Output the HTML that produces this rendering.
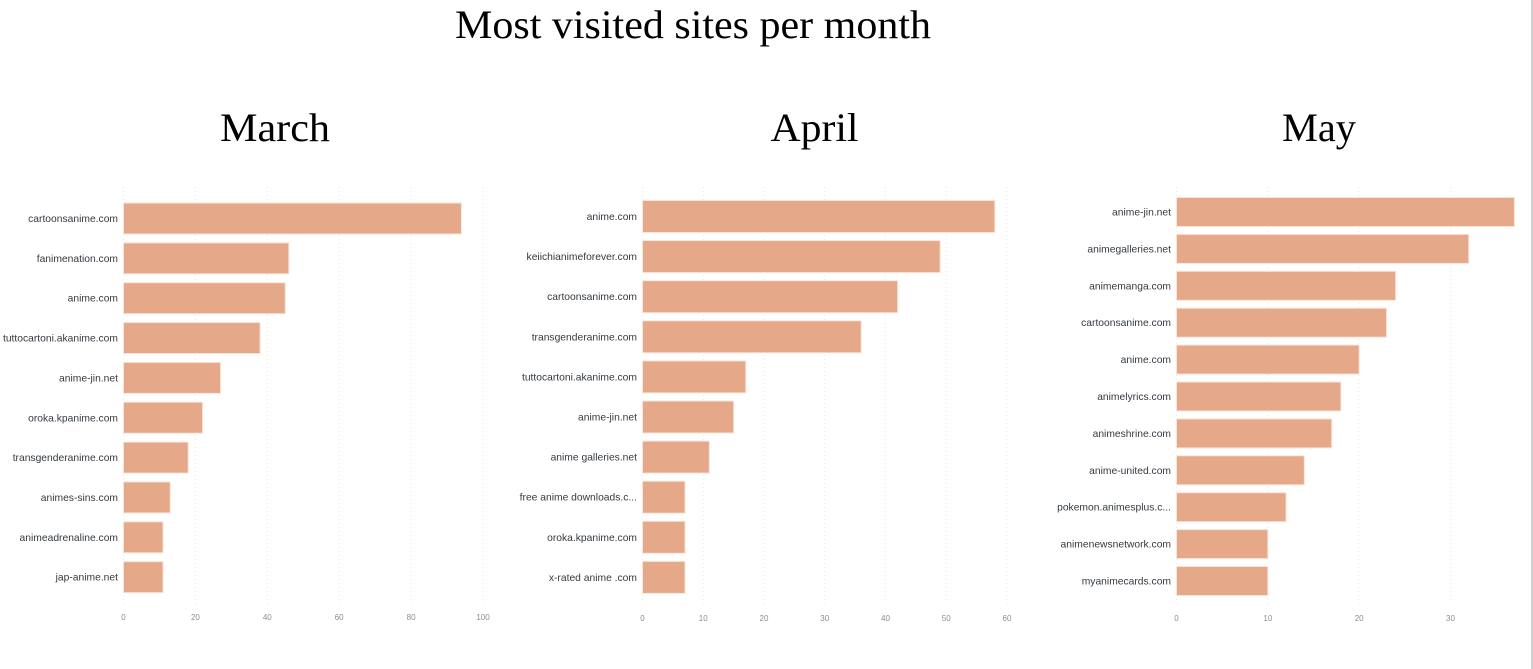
<!DOCTYPE html>
<html lang="en">
<head>
<meta charset="utf-8">
<title>Most visited sites per month</title>
<style>
html,body{margin:0;padding:0;background:#fff;width:1533px;height:669px;overflow:hidden}
svg{display:block}
.heading{font-family:"Liberation Serif",serif;fill:#000}
.cat{font-family:"Liberation Sans",sans-serif;font-size:10.3px;fill:#333a40;text-anchor:end}
.tick{font-family:"Liberation Sans",sans-serif;font-size:8px;fill:#868e96;text-anchor:middle}
</style>
</head>
<body>
<svg id="root" width="1533" height="669" viewBox="0 0 1533 669" xmlns="http://www.w3.org/2000/svg">
  <rect x="0" y="0" width="1533" height="669" fill="#ffffff"/>
  <rect x="1531" y="0" width="2" height="669" fill="#d0d0d0"/>
  <text class="heading" x="693" y="38" font-size="40" text-anchor="middle" textLength="476" lengthAdjust="spacingAndGlyphs">Most visited sites per month</text>
  <text class="heading" x="275" y="141" font-size="40" text-anchor="middle" textLength="110" lengthAdjust="spacingAndGlyphs">March</text>
  <text class="heading" x="814.5" y="141" font-size="40" text-anchor="middle" textLength="88" lengthAdjust="spacingAndGlyphs">April</text>
  <text class="heading" x="1319" y="141" font-size="40" text-anchor="middle" textLength="74" lengthAdjust="spacingAndGlyphs">May</text>
</svg>
<script>
const marchCategories = ["cartoonsanime.com","fanimenation.com","anime.com","tuttocartoni.akanime.com","anime-jin.net","oroka.kpanime.com","transgenderanime.com","animes-sins.com","animeadrenaline.com","jap-anime.net"];
const marchValues = [94,46,45,38,27,22,18,13,11,11];
const marchTicks = [0,20,40,60,80,100];

const aprilCategories = ["anime.com","keiichianimeforever.com","cartoonsanime.com","transgenderanime.com","tuttocartoni.akanime.com","anime-jin.net","anime galleries.net","free anime downloads.c...","oroka.kpanime.com","x-rated anime .com"];
const aprilValues = [58,49,42,36,17,15,11,7,7,7];
const aprilTicks = [0,10,20,30,40,50,60];

const mayCategories = ["anime-jin.net","animegalleries.net","animemanga.com","cartoonsanime.com","anime.com","animelyrics.com","animeshrine.com","anime-united.com","pokemon.animesplus.c...","animenewsnetwork.com","myanimecards.com"];
const mayValues = [37,32,24,23,20,18,17,14,12,10,10];
const mayTicks = [0,10,20,30];

const NS = "http://www.w3.org/2000/svg";
const root = document.getElementById("root");

function makeEl(tag, parent){
  const el = document.createElementNS(NS, tag);
  parent.appendChild(el);
  return el;
}

function drawChart(name, categories, values, ticks, frame){
  const xScale = v => frame.x0 + (v / frame.domainMax) * frame.plotWidth;
  const yBand = i => frame.firstCenter + i * frame.step;

  const group = makeEl("g", root);
  
  

  ticks.forEach(t => {
    const line = makeEl("line", group);
    line.setAttribute("x1", xScale(t));
    line.setAttribute("x2", xScale(t));
    line.setAttribute("y1", frame.gridTop);
    line.setAttribute("y2", frame.gridBottom);
    line.setAttribute("stroke", "#e8e8e8");
    line.setAttribute("stroke-width", "1");
    line.setAttribute("stroke-dasharray", "1 3");
    
    

    const label = makeEl("text", group);
    label.setAttribute("class", "tick");
    label.setAttribute("x", xScale(t));
    label.setAttribute("y", frame.tickY);
    label.textContent = t;
    
    
  });

  categories.forEach((c, i) => {
    const label = makeEl("text", group);
    label.setAttribute("class", "cat");
    label.setAttribute("x", frame.x0 - 5.5);
    label.setAttribute("y", yBand(i) + 3.5);
    label.textContent = c;
    
    

    const bar = makeEl("rect", group);
    bar.setAttribute("x", xScale(0));
    bar.setAttribute("y", yBand(i) - frame.barHeight / 2);
    bar.setAttribute("width", xScale(values[i]) - xScale(0));
    bar.setAttribute("height", frame.barHeight);
    bar.setAttribute("fill", "#e5a98a");
    bar.setAttribute("stroke", "#f9e4d8");
    bar.setAttribute("stroke-width", "1");
    
    
  });
}

drawChart("march", marchCategories, marchValues, marchTicks,
  {x0:123.5, domainMax:100, plotWidth:359.5, firstCenter:218.5, step:39.85, barHeight:31, gridTop:187, gridBottom:605, tickY:620});
drawChart("april", aprilCategories, aprilValues, aprilTicks,
  {x0:642.5, domainMax:60, plotWidth:364.5, firstCenter:216.5, step:40.1, barHeight:32, gridTop:187, gridBottom:605, tickY:621});
drawChart("may", mayCategories, mayValues, mayTicks,
  {x0:1176.5, domainMax:30, plotWidth:274, firstCenter:212, step:36.9, barHeight:29, gridTop:187, gridBottom:605, tickY:621});
</script>
</body>
</html>
